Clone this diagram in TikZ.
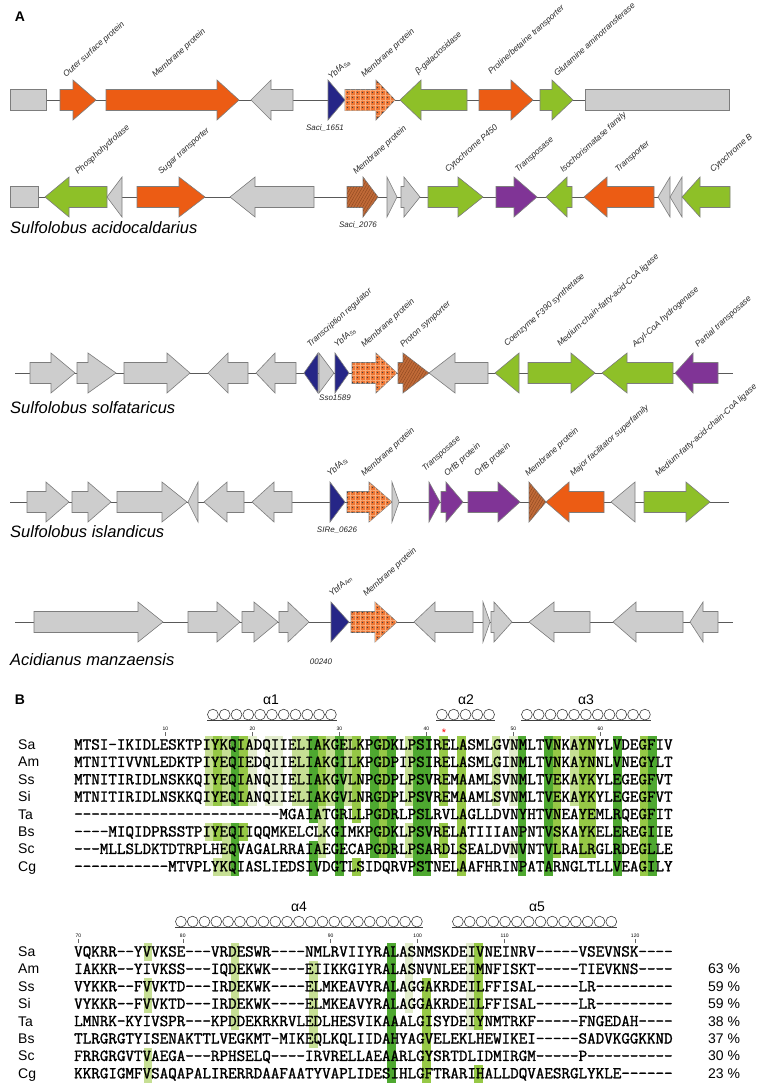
\documentclass[tikz,border=0pt]{standalone}
\usepackage{fontspec}
\setmainfont{Liberation Sans}
\setmonofont{Latin Modern Mono}[FakeBold=1.6]
\usetikzlibrary{patterns.meta}
\definecolor{gyfill}{RGB}{205,205,205}
\definecolor{gyline}{RGB}{125,125,125}
\definecolor{orfill}{RGB}{236,92,20}
\definecolor{gnfill}{RGB}{142,192,40}
\definecolor{blfill}{RGB}{38,38,135}
\definecolor{pufill}{RGB}{128,52,150}
\definecolor{mdfill}{RGB}{238,118,52}
\definecolor{mdgrid}{RGB}{248,172,122}
\definecolor{bhfill}{RGB}{192,106,56}
\definecolor{bhline}{RGB}{140,70,30}
\definecolor{shd}{RGB}{78,168,48}
\definecolor{shm}{RGB}{150,200,70}
\definecolor{shl}{RGB}{198,223,148}
\definecolor{shv}{RGB}{226,236,204}
% gene glyphs: start / head base / tip / axis y / style
\newcommand\headH{20}
\newcommand\bodyH{10.5}
\newcommand\geneR[5]{\draw[#5] (#1,#4-\bodyH) -- (#2,#4-\bodyH) -- (#2,#4-\headH) -- (#3,#4)
  -- (#2,#4+\headH) -- (#2,#4+\bodyH) -- (#1,#4+\bodyH) -- cycle;}
\newcommand\geneL[5]{\draw[#5] (#3,#4-\bodyH) -- (#2,#4-\bodyH) -- (#2,#4-\headH) -- (#1,#4)
  -- (#2,#4+\headH) -- (#2,#4+\bodyH) -- (#3,#4+\bodyH) -- cycle;}
\newcommand\geneB[5]{\draw[#5] (#1,#4-\bodyH) rectangle (#2,#4+\bodyH);}
\newcommand\geneT[5]{\draw[#5] (#1,#4-\headH) -- (#2,#4) -- (#1,#4+\headH) -- cycle;}
\newcommand\geneU[5]{\draw[#5] (#2,#4-\headH) -- (#1,#4) -- (#2,#4+\headH) -- cycle;}
% helix: x start / loops / base y
\newcommand\coilrow[3]{\draw[coil] (#1,#3) -- ({#1+#2*11.8},#3);
  \foreach \j in {1,...,#2}{\draw[coil] ({#1+(\j-0.5)*11.8},{#3-5.4}) circle (5.4pt);}}
\tikzset{
  gene/.style={draw=gyline, line width=0.6pt, line join=miter},
  ggy/.style={gene, fill=gyfill},
  gor/.style={gene, fill=orfill},
  ggn/.style={gene, fill=gnfill},
  gbl/.style={gene, fill=blfill},
  gpu/.style={gene, fill=pufill},
  gmd/.style={gene, fill=mdfill,
    postaction={pattern={Lines[angle=0,distance=5pt,line width=0.7pt]}, pattern color=mdgrid},
    postaction={pattern={Lines[angle=90,distance=5pt,line width=0.7pt]}, pattern color=mdgrid},
    postaction={pattern={Dots[distance=5pt,radius=0.55pt,xshift=2.5pt,yshift=2.5pt]}, pattern color=black!75}},
  gbh/.style={gene, fill=bhfill,
    postaction={pattern={Lines[angle=60,distance=2.5pt,line width=0.4pt]}, pattern color=bhline}},
  axis/.style={draw=black!65, line width=0.9pt},
  glab/.style={font=\fontsize{8.4}{9}\selectfont\itshape, rotate=42, anchor=base west,
    inner sep=0pt, text=black!85},
  locus/.style={font=\fontsize{8}{9}\selectfont\itshape, inner sep=0pt, text=black!85},
  species/.style={font=\fontsize{16.5}{18}\selectfont\itshape, anchor=west, inner sep=0pt},
  panel/.style={font=\fontsize{14}{16}\selectfont\bfseries, inner sep=0pt},
  seqlab/.style={font=\fontsize{14}{16}\selectfont, anchor=base west, inner sep=0pt},
  seq/.style={font=\ttfamily\fontsize{16.6}{18}\selectfont, anchor=base west, inner sep=0pt},
  resnum/.style={font=\fontsize{5}{5}\selectfont, inner sep=0pt, anchor=south},
  hlab/.style={font=\fontsize{14}{16}\selectfont, inner sep=0pt},
  coil/.style={line width=0.6pt, draw=black!75},
  tick/.style={line width=0.4pt, draw=black!60}
}
\begin{document}
\begin{tikzpicture}[x=1pt, y=-1pt]
\useasboundingbox (0,0) rectangle (766,1090);
\node[panel] (pa) at (20,17) {A};
% ---- row 1: Sulfolobus acidocaldarius, Saci_1651 ----
\draw[axis] (10,100) -- (729,100);
\foreach \k/\a/\b/\c/\s in {B/10/46/0/ggy, R/60/73/96/gor, R/106/217/239/gor, L/251/271/293/ggy,
  T/328/345/0/gbl, R/345/376/395/gmd, L/400/421/467/ggn, R/479/511/533/gor, R/540/552/573/ggn,
  B/585/729/0/ggy}{
  \csname gene\k\endcsname{\a}{\b}{\c}{100}{\s}}
\foreach \x/\y/\t [count=\i] in {66/78/Outer surface protein, 155/78/Membrane protein,
  331/80/YbfA\textsubscript{Sa}, 364/78/Membrane protein, 418/75/β-galactosidase,
  491/75/{Proline/betaine transporter}, 557/77/Glutamine aminotransferase}{
  \node[glab] (ga\i) at (\x,\y) {\t};}
\node[locus] (locA) at (325,128) {Saci\_1651};
% ---- row 2: Sulfolobus acidocaldarius, Saci_2076 ----
\draw[axis] (10,197) -- (730,197);
\foreach \k/\a/\b/\c/\s in {B/10/38/0/ggy, L/45/69/107/ggn, U/107/122/0/ggy, R/137/179/205/gor,
  L/230/255/314/ggy, R/347/363/378/gbh, T/387/397/0/ggy, R/401/404/420/ggy, R/428/458/483/ggn,
  R/496/514/537/gpu, L/546/567/572/ggn, L/584/607/654/gor, U/658/670/0/ggy, U/670/682/0/ggy,
  L/682/700/730/ggn}{
  \csname gene\k\endcsname{\a}{\b}{\c}{197}{\s}}
\foreach \x/\y/\t [count=\i] in {78/175/Phosphohydrolase, 161/175/Sugar transporter,
  356/175/Membrane protein, 448/173/Cytochrome P450, 518/173/Transposase,
  563/173/Isochorismatase family, 618/173/Transporter, 713/173/Cytochrome B}{
  \node[glab] (gb\i) at (\x,\y) {\t};}
\node[locus] (locB) at (358,225) {Saci\_2076};
\node[species] (spA) at (10,228) {Sulfolobus acidocaldarius};
% ---- row 3: Sulfolobus solfataricus ----
\draw[axis] (15,373) -- (733,373);
\foreach \k/\a/\b/\c/\s in {R/30/51/75/ggy, R/77/88/116/ggy, R/124/167/190/ggy, L/208/228/248/ggy,
  L/256/275/296/ggy, U/304/318/0/gbl, T/319/334/0/ggy, T/335/349/0/gbl, R/352/376/397/gmd,
  R/398/403/429/gbh, L/429/455/488/ggy, U/495/519/0/ggn, R/528/571/595/ggn, L/602/627/673/ggn,
  L/675/693/718/gpu}{
  \csname gene\k\endcsname{\a}{\b}{\c}{373}{\s}}
\foreach \x/\y/\t [count=\i] in {310/348/Transcription regulator, 337/348/YbfA\textsubscript{Ss},
  364/348/Membrane protein, 403/348/Proton symporter, 507/347/Coenzyme F390 synthetase,
  560/347/Medium-chain-fatty-acid-CoA ligase, 635/348/Acyl-CoA hydrogenase,
  698/348/Partial transposase}{
  \node[glab] (gc\i) at (\x,\y) {\t};}
\node[locus] (locC) at (335,398) {Sso1589};
\node[species] (spB) at (10,408) {Sulfolobus solfataricus};
% ---- row 4: Sulfolobus islandicus ----
\draw[axis] (10,502) -- (729,502);
\foreach \k/\a/\b/\c/\s in {R/27/46/69/ggy, R/72/88/111/ggy, R/117/162/187/ggy, U/188/198/0/ggy,
  L/204/227/244/ggy, L/252/274/292/ggy, T/330/345/0/gbl, R/347/369/392/gmd, T/392/399/0/ggy,
  T/429/440/0/gpu, R/441/446/463/gpu, R/468/498/520/gpu, T/529/546/0/gbh, L/546/569/604/gor,
  U/611/635/0/ggy, R/644/686/710/ggn}{
  \csname gene\k\endcsname{\a}{\b}{\c}{502}{\s}}
\foreach \x/\y/\t [count=\i] in {330/477/YbfA\textsubscript{Si}, 364/477/Membrane protein,
  425/472/Transposase, 447/477/OrfB protein, 477/477/OrfB protein, 528/477/Membrane protein,
  573/477/Major facilitator superfamily, 658/477/Medium-fatty-acid-chain-CoA ligase}{
  \node[glab] (gd\i) at (\x,\y) {\t};}
\node[locus] (locD) at (337,530) {SIRe\_0626};
\node[species] (spC) at (10,532) {Sulfolobus islandicus};
% ---- row 5: Acidianus manzaensis ----
\draw[axis] (15,622) -- (733,622);
\foreach \k/\a/\b/\c/\s in {R/34/138/163/ggy, R/188/217/240/ggy, R/242/254/278/ggy,
  R/279/288/309/ggy, T/331/349/0/gbl, R/351/375/397/gmd, L/414/435/473/ggy, T/483/490/0/ggy,
  R/491/494/512/ggy, L/529/554/590/ggy, L/613/636/683/ggy, L/690/703/718/ggy}{
  \csname gene\k\endcsname{\a}{\b}{\c}{622}{\s}}
\foreach \x/\y/\t [count=\i] in {332/597/YbfA\textsubscript{Am}, 366/597/Membrane protein}{
  \node[glab] (ge\i) at (\x,\y) {\t};}
\node[locus] (locE) at (321,662) {00240};
\node[species] (spD) at (10,660) {Acidianus manzaensis};

% ---- panel B, block 1 (residues 1-69) ----
\node[panel] (pb) at (20,700) {B};
\foreach \c/\ra/\rb/\k in {16/1/4/shl, 16/6/6/shl, 17/1/4/shm, 17/6/6/shm, 17/8/8/shl,
  18/1/4/shl, 18/6/8/shl, 19/1/4/shd, 19/6/8/shd, 20/1/4/shm, 20/6/6/shm, 21/1/4/shv,
  23/1/4/shv, 24/1/4/shv, 26/1/4/shl, 27/1/4/shl, 28/1/5/shd, 28/7/8/shd, 29/1/4/shm,
  29/5/7/shl, 30/1/4/shl, 31/1/8/shd, 32/1/4/shl, 33/1/5/shm, 33/8/8/shm, 35/1/7/shd,
  36/1/7/shm, 37/1/7/shd, 39/1/4/shl, 39/6/7/shl, 40/1/8/shd, 41/1/8/shd, 43/1/4/shm,
  43/6/7/shm, 45/1/8/shm, 49/1/4/shl, 51/1/4/shv, 51/7/7/shv, 52/1/8/shd, 55/1/8/shd,
  56/1/7/shm, 58/1/4/shl, 59/1/7/shm, 60/1/7/shm, 63/1/8/shd, 66/1/8/shm, 67/1/8/shd}{
  \fill[\k] ({74+(\c-1)*8.7},{736.3+17.4*(\ra-1)}) rectangle ({74+\c*8.7},{753.7+17.4*(\rb-1)});}
\node[hlab] (a1) at (271,700) {α1};
\node[hlab] (a2) at (466,700) {α2};
\node[hlab] (a3) at (586,700) {α3};
\coilrow{207}{11}{720}
\coilrow{436}{5}{720}
\coilrow{521}{11}{720}
\foreach \v/\c in {10/11, 20/21, 30/31, 40/41, 50/51, 60/61}{
  \node[resnum] (rt\v) at ({74+(\c-0.5)*8.7},731) {\v};
  \draw[tick] (rt\v.south) ++(0,1) -- ++(0,4);}
\node[text=red, font=\fontsize{11}{11}\selectfont, inner sep=0pt] (ast) at (444,733) {*};
\foreach \n/\q [count=\i] in {
  Sa/MTSI-IKIDLESKTPIYKQIADQIIELIAKGELKPGDKLPSIRELASMLGVNMLTVNKAYNYLVDEGFIV,
  Am/MTNITIVVNLEDKTPIYEQIEDQIIELIAKGILKPGDPIPSIRELASMLGINMLTVNKAYNNLVNEGYLT,
  Ss/MTNITIRIDLNSKKQIYEQIANQIIELIAKGVLNPGDPLPSVREMAAMLSVNMLTVEKAYKYLEGEGFVT,
  Si/MTNITIRIDLNSKKQIYEQIANQIIELIAKGVLNRGDPLPSVREMAAMLSVNMLTVEKAYKYLEGEGFVT,
  Ta/------------------------MGAIATGRLLPGDRLPSLRVLAGLLDVNYHTVNEAYEMLRQEGFIT,
  Bs/----MIQIDPRSSTPIYEQIIQQMKELCLKGIMKPGDKLPSVRELATIIIANPNTVSKAYKELEREGIIE,
  Sc/---MLLSLDKTDTRPLHEQVAGALRRAIAEGECAPGDRLPSARDLSEALDVNVNTVLRALRGLRDEGLLE,
  Cg/-----------MTVPLYKQIASLIEDSIVDGTLSIDQRVPSTNELAAFHRINPATARNGLTLLVEAGILY}{
  \node[seqlab] (lt\i) at (18,{749.5+17.4*(\i-1)}) {\n};
  \node[seq] (st\i) at (74,{749.5+17.4*(\i-1)}) {\q};}

% ---- panel B, block 2 (residues 70-125) ----
\foreach \c/\ra/\rb/\k in {9/1/1/shl, 9/3/4/shl, 9/7/8/shl, 19/1/5/shl, 28/2/6/shl,
  37/1/8/shd, 39/1/4/shv, 41/3/8/shm, 46/1/5/shv, 47/1/5/shm, 47/8/8/shm}{
  \fill[\k] ({74+(\c-1)*8.7},{943.3+17.4*(\ra-1)}) rectangle ({74+\c*8.7},{960.7+17.4*(\rb-1)});}
\node[hlab] (a4) at (299,907) {α4};
\node[hlab] (a5) at (537,907) {α5};
\coilrow{175}{21}{927}
\coilrow{452}{14}{927}
\foreach \v/\c in {70/1, 80/13, 90/30, 100/40, 110/50, 120/65}{
  \node[resnum] (rb\v) at ({74+(\c-0.5)*8.7},938) {\v};
  \draw[tick] (rb\v.south) ++(0,1) -- ++(0,4);}
\foreach \n/\q [count=\i] in {
  Sa/VQKRR--YVVKSE---VRDESWR----NMLRVIIYRALASNMSKDEIVNEINRV-----VSEVNSK----,
  Am/IAKKR--YIVKSS---IQDEKWK----EIIKKGIYRALASNVNLEEIMNFISKT-----TIEVKNS----,
  Ss/VYKKR--FVVKTD---IRDEKWK----ELMKEAVYRALAGGAKRDEILFFISAL-----LR---------,
  Si/VYKKR--FVVKTD---IRDEKWK----ELMKEAVYRALAGGAKRDEILFFISAL-----LR---------,
  Ta/LMNRK-KYIVSPR---KPDDEKRKRVLEDLHESVIKAAALGISYDEIYNMTRKF-----FNGEDAH----,
  Bs/TLRGRGTYISENAKTTLVEGKMT-MIKEQLKQLIIDAHYAGVELEKLHEWIKEI-----SADVKGGKKND,
  Sc/FRRGRGVTVAEGA---RPHSELQ----IRVRELLAEAARLGYSRTDLIDMIRGM-----P----------,
  Cg/KKRGIGMFVSAQAPALIRERRDAAFAATYVAPLIDESIHLGFTRARIHALLDQVAESRGLYKLE------}{
  \node[seqlab] (lb\i) at (18,{956.5+17.4*(\i-1)}) {\n};
  \node[seq] (sb\i) at (74,{956.5+17.4*(\i-1)}) {\q};}
\foreach \p [count=\i from 2] in {63,59,59,38,37,30,23}{
  \node[seqlab] (pc\i) at (708,{956.5+17.4*(\i-1)}) {\p\ \%};}
\end{tikzpicture}
\end{document}
